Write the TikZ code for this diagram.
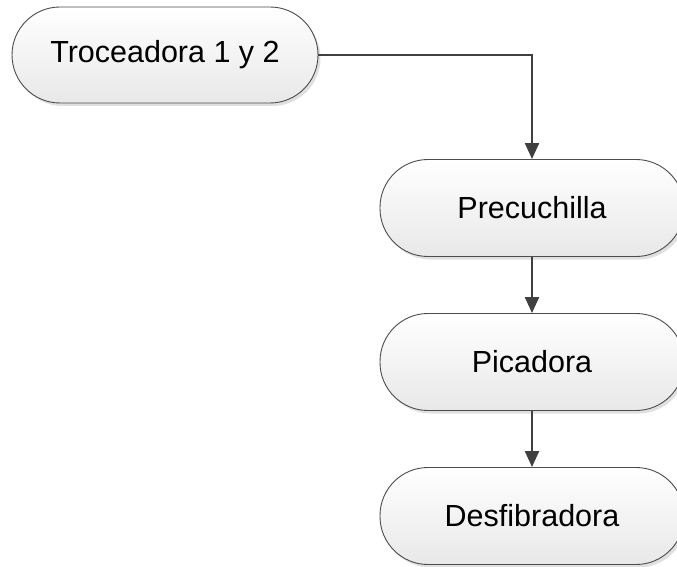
\documentclass[tikz,border=0pt]{standalone}
\usepackage{fontspec}
\setmainfont{Liberation Sans}
\usetikzlibrary{arrows.meta,shadows}
\begin{document}
\begin{tikzpicture}[x=1pt,y=-1pt,
  proc/.style={draw=black!70, line width=0.9pt, rounded corners=48pt,
    top color=white, bottom color=black!9,
    drop shadow={shadow xshift=2.5pt, shadow yshift=-3pt, fill=black!12, opacity=1},
    minimum width=304pt, minimum height=97pt, inner sep=0pt,
    font=\fontsize{30.5}{34}\selectfont},
  flow/.style={draw=black!75, line width=2.2pt,
    -{Triangle[width=14pt,length=16pt]}}]
  \useasboundingbox (0,0) rectangle (677,567);
  \node[proc, minimum width=306pt, minimum height=96pt] (tro) at (165,55) {Troceadora 1 y 2};
  \node[proc] (pre) at (532,208) {Precuchilla};
  \node[proc] (pic) at (532,362) {Picadora};
  \node[proc] (des) at (532,516) {Desfibradora};
  \draw[flow] (tro.east) -| (pre.north);
  \draw[flow] (pre) -- (pic);
  \draw[flow] (pic) -- (des);
\end{tikzpicture}
\end{document}
